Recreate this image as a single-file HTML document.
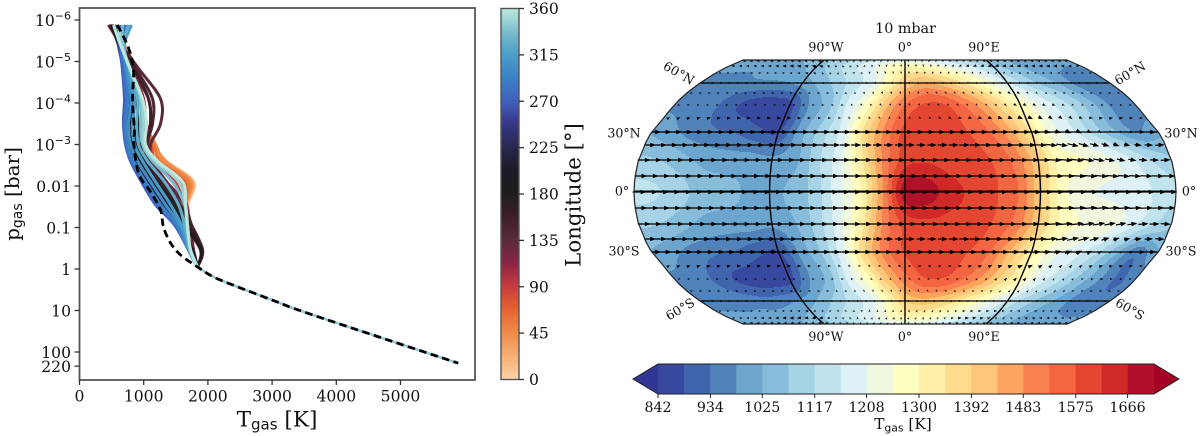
<!DOCTYPE html>
<html lang="en">
<head>
<meta charset="utf-8">
<title>Gas temperature profiles and 10 mbar map</title>
<style>
html,body{margin:0;padding:0;background:#fff;}
svg{display:block;}
text{font-family:"DejaVu Serif","Liberation Serif",serif;fill:#111;}
.sans{font-family:"DejaVu Sans","Liberation Sans",sans-serif;}
</style>
</head>
<body>
<svg id="fig" width="1200" height="436" viewBox="0 0 1200 436" xmlns="http://www.w3.org/2000/svg">
  <defs>
    <linearGradient id="lonGrad" x1="0" y1="1" x2="0" y2="0"></linearGradient>
    <clipPath id="mapClip"><path id="mapClipPath"></path></clipPath>
  </defs>
  <g id="left"></g>
  <g id="cbar"></g>
  <g id="map"></g>
  <g id="mapbar"></g>
</svg>
<script>
/* ---------- left panel data ---------- */
const xTicks = [0, 1000, 2000, 3000, 4000, 5000];
const yTickLogs = [-6, -5, -4, -3, -2, -1, 0, 1, 2, 2.342];
const yTickPlain = ["", "", "", "", "0.01", "0.1", "1", "10", "100", "220"];
const yTickExp = ["−6", "−5", "−4", "−3", "", "", "", "", "", ""];
const profileLogP = [-5.88, -5.4, -4.8, -4.1, -3.5, -3.0, -2.6, -2.1, -1.55, -1.06, -0.46, -0.05];
const profileLons = [0,11,22,33,45,56,67,78,90,100,112,125,135,146,157,169,180,191,202,214,225,236,247,258,270,281,292,303,315,326,337,349,360];
const profileTemps = [
 [608,701,857,919,997,1137,1340,1776,1683,1683,1729,1838],
 [608,701,857,935,997,1153,1356,1776,1683,1683,1729,1838],
 [608,701,872,950,1013,1153,1324,1760,1667,1683,1729,1838],
 [592,701,888,966,1013,1168,1340,1745,1652,1667,1729,1838],
 [576,686,888,982,1028,1184,1324,1729,1652,1667,1729,1838],
 [545,670,872,982,1028,1153,1262,1683,1636,1667,1729,1838],
 [530,670,857,997,1044,1122,1200,1636,1636,1667,1729,1838],
 [499,654,826,982,1044,1106,1184,1574,1652,1683,1729,1838],
 [483,639,810,966,1044,1090,1168,1511,1652,1683,1745,1838],
 [467,639,810,982,1028,1075,1168,1449,1667,1683,1760,1838],
 [452,639,810,997,1028,1059,1137,1356,1667,1683,1776,1838],
 [452,639,826,1075,1106,1059,1122,1324,1636,1729,1776,1838],
 [467,654,935,1262,1262,1106,1137,1356,1636,1745,1901,1838],
 [483,639,888,1137,1137,1044,1075,1293,1574,1745,1916,1838],
 [483,639,857,1075,1106,1028,1059,1262,1542,1729,1916,1838],
 [499,623,795,982,997,966,1013,1215,1496,1683,1901,1838],
 [499,608,763,888,904,919,982,1184,1449,1636,1885,1838],
 [514,608,748,841,841,888,950,1137,1402,1605,1760,1838],
 [530,608,732,795,810,857,935,1106,1356,1589,1729,1838],
 [545,608,701,748,763,810,904,1075,1324,1574,1714,1838],
 [576,608,686,717,732,779,872,1044,1293,1558,1714,1838],
 [592,608,686,717,717,763,841,1013,1262,1527,1729,1838],
 [608,608,686,717,701,748,826,997,1231,1527,1714,1838],
 [639,623,670,701,686,732,810,982,1200,1496,1698,1838],
 [670,639,670,701,686,717,795,966,1184,1480,1698,1838],
 [717,654,686,732,701,732,810,997,1215,1496,1698,1838],
 [763,670,717,763,717,748,841,1028,1262,1511,1698,1838],
 [795,686,732,810,763,795,904,1106,1340,1558,1698,1838],
 [810,701,763,857,826,857,982,1184,1418,1589,1714,1838],
 [763,686,779,904,888,919,1059,1324,1542,1636,1714,1838],
 [670,670,795,950,950,982,1137,1449,1636,1667,1729,1838],
 [608,654,795,966,997,997,1184,1542,1652,1683,1729,1838],
 [530,639,795,982,1044,1028,1215,1605,1652,1683,1729,1838]
];
const meanLogP = [-5.88,-5.33,-4.80,-4.07,-3.28,-3.11,-2.31,-1.86,-1.42,-1.01,-0.63,-0.34,-0.05,0.19,0.43,0.75,1.04,1.81,2.27];
const meanTemp = [592,763,841,826,857,841,919,1106,1262,1308,1417,1573,1838,2087,2461,3006,3505,5000,5900];
const lonTicks = [0, 45, 90, 135, 180, 225, 270, 315, 360];
const lonStopValues = [0,20,45,70,90,112,135,160,180,205,225,250,270,292,315,337,360];
const lonStopColors = ["#fdd3a8","#f9b27a","#f08c48","#e4602e","#c93b3f","#8e2545","#5a2a3a","#3a1f25","#1f1d1d","#1c1c2a","#28284e","#37398a","#4060c0","#3a80c5","#4a9dc8","#7abccb","#bde9dc"];

/* ---------- map data ---------- */
const tempLats = [83, 75, 60, 45, 30, 15, 0, -15, -30, -45, -60, -75, -83];
const tempField = [
 [1010,1010,1015,1020,1020,1030,1050,1080,1110,1140,1170,1200,1220,1210,1190,1160,1130,1100,1070,1040,1020,1010,1005,1005,1010],
 [990,990,990,1000,1010,1020,1050,1090,1130,1170,1210,1260,1290,1280,1260,1220,1180,1140,1090,1050,1020,1000,990,980,985],
 [970,970,965,970,970,975,1000,1040,1090,1140,1190,1290,1390,1440,1420,1370,1310,1240,1170,1110,1060,1020,970,950,960],
 [970,960,945,900,870,860,875,980,1050,1170,1270,1420,1530,1580,1580,1530,1460,1370,1290,1210,1150,1090,1020,960,950],
 [1020,990,960,940,930,900,885,1000,1090,1180,1350,1490,1590,1610,1595,1575,1530,1450,1340,1230,1170,1100,1030,980,1010],
 [1080,1070,1040,1010,1000,1000,990,1010,1100,1190,1330,1490,1600,1615,1600,1590,1570,1510,1400,1280,1260,1230,1180,1120,1080],
 [1130,1120,1090,1050,1040,1020,1010,1040,1090,1190,1290,1480,1690,1690,1640,1610,1580,1530,1400,1270,1220,1200,1190,1160,1130],
 [1080,1070,1040,1010,1000,1000,990,1020,1090,1190,1320,1490,1590,1610,1605,1600,1570,1510,1400,1290,1250,1240,1190,1130,1080],
 [1020,990,960,940,930,900,885,990,1070,1190,1370,1500,1580,1605,1595,1575,1530,1430,1320,1230,1190,1130,1040,950,1020],
 [970,960,930,890,870,860,875,975,1040,1170,1270,1410,1510,1570,1570,1530,1470,1380,1290,1190,1130,1060,990,930,950],
 [970,970,965,960,950,965,990,1035,1090,1140,1190,1290,1390,1420,1400,1350,1290,1230,1160,1100,1050,1010,960,945,960],
 [990,990,990,1000,1010,1020,1050,1090,1130,1170,1210,1260,1290,1280,1260,1220,1180,1130,1090,1050,1020,1000,990,980,985],
 [1010,1010,1015,1020,1020,1030,1050,1080,1110,1140,1170,1200,1220,1210,1190,1160,1130,1100,1070,1040,1020,1010,1005,1005,1010]
];
const levelTicks = [842, 934, 1025, 1117, 1208, 1300, 1392, 1483, 1575, 1666];
const levelColors = ["#39489f","#4065ad","#5183bb","#6ca5cd","#87bddb","#a6d3e6","#c0e3ee","#ddf1f7","#eff8df","#ffffbf","#fff0a8","#fedb8c","#fec678","#fda55f","#f98050","#f46542","#e34732","#cf2a28","#b0112a"];
const windLons = [-180,-150,-120,-90,-60,-30,0,30,60,90,120,150,180];
const windLats = [82.5,75,67.5,60,52.5,45,37.5,30,22.5,15,7.5,0,-7.5,-15,-22.5,-30,-37.5,-45,-52.5,-60,-67.5,-75,-82.5];
const windU = [
 [-3,-3,-3,-3,-1,-0.5,0.5,-1,-2,-3,-3,-3,-3],
 [-3,-3,-4,-4,-1,0,1,-1,-3,-4,-4,-4,-3],
 [-1,-1.5,-2,-3,1,0,0,-1,-2,-2,-2,-1,-1],
 [1,1,1,1,1,0.5,0,1,2,2,1,1,1],
 [1,2,1.5,1.5,1,0.5,0.5,1,1.5,3,0,1,1],
 [2,2,2,2,2,2,1,1,1.5,3,3,0.5,2],
 [3,4,4,4,3,2,2,3,4,5,3,4,3],
 [8,8,9,9,9,7,6,7,8,8,6,2,7],
 [12,12,12,12,12,10,9,10,12,13,11,6,10],
 [13,13,13,13,13,12,12,13,13,14,14,8,10],
 [13,13,13,14,14,14,14,14,14,14,14,12,13],
 [14,14,14,14,14,14,14,14,14,14,14,14,14],
 [13,13,14,14,14,14,14,14,14,14,14,13,13],
 [13,13,13,13,13,12,12,13,13,14,14,10,10],
 [12,12,12,12,12,10,9,10,12,13,12,6,10],
 [8,8,9,9,9,7,6,7,8,8,7,2,7],
 [3,4,4,4,3,2,3,3,4,5,2,4,3],
 [1,2,2,2,2,1,1,2,2,3,1,3,2],
 [1,1,1,1,1,1,1,1,1,2,1,1,1],
 [1,1,1,1,1,1,1,1,2,2,1,1,1],
 [-1,-1,-2,-3,1,0,0,1,3,3,-2,-2,-1],
 [-2,-3,-4,-4,-1,1,1,1,4,3,-3,-3,-2],
 [-3,-3,-3,-3,-1,2,0,-2,-3,-3,-3,-3,-3]
];
const windV = [
 [0,0,0,1,1,-1,-1,-1,-1,0,0,0,0],
 [0,0,0,1,2,-1.5,-2,-2,-1,-1,0,0,0],
 [0,0,0,1,2,-2,-2,-1,-1,-1,0,0,0],
 [0,0,0,0,0,-1,-1,0,0,0,0,0,0],
 [0,0,0,0,0,-1,-2,-1,-1,-2,0,0,0],
 [0,0,0,0,0,-1,-2,-1,-1,-2,-1,0,0],
 [2,1,0,0,0,-1,-1,-1,-1,-2,-3,1,0],
 [0,0,0,0,0,0,0,0,0,0,-3,-1,0],
 [0,0,0,0,0,0,0,0,0,0,-3,-2,1],
 [0,0,0,0,0,0,0,0,0,0,-2,-2,1],
 [0,0,0,0,0,0,0,0,0,0,-1,-1,0],
 [0,0,0,0,0,0,0,0,0,0,0,0,0],
 [0,0,0,0,0,0,0,0,0,0,1,1,0],
 [0,0,0,0,0,0,0,0,0,0,2,2,-1],
 [0,0,0,0,0,0,0,0,0,0,3,2,-1],
 [0,0,0,0,0,0,0,0,0,0,3,1,0],
 [2,1,0,0,0,-1,0,0,1,2,3,1,0],
 [0,0,0,0,0,0,-1,0,1,3,2,0,0],
 [0,0,0,0,0,-1,-1,-1,0,2,1,0,0],
 [0,0,0,0,0,0,0,0,0,0,0,0,0],
 [0,0,0,0,-1,1,1,1,0,0,0,0,0],
 [0,0,0,-1,1,2,2,1,0,1,1,0,0],
 [0,0,0,-1,1,2,1,1,0,1,0,0,0]
];
const latLabels = [
 ["60°N",679,73,30],["60°N",1130,73,-30],["30°N",624,133,0],["30°N",1181,133,0],
 ["0°",622,191,0],["0°",1189,191,0],["30°S",624,251,0],["30°S",1181,251,0],
 ["60°S",680,309,-30],["60°S",1130,309,30]
];
const lonLabels = ["90°W","0°","90°E"];
const lonGridValues = [-90, 0, 90];
const latGridValues = [60, 30, -30, -60];

/* ---------- helpers ---------- */
const NS = "http://www.w3.org/2000/svg";
function mk(parent, tag, attrs) {
  const el = document.createElementNS(NS, tag);
  for (const k in attrs) el.setAttribute(k, attrs[k]);
  parent.appendChild(el);
  return el;
}
function smooth(pts) {
  let d = "M" + pts[0][0].toFixed(2) + " " + pts[0][1].toFixed(2);
  for (let i = 0; i < pts.length - 1; i++) {
    const p0 = pts[Math.max(i - 1, 0)], p1 = pts[i], p2 = pts[i + 1], p3 = pts[Math.min(i + 2, pts.length - 1)];
    const c1x = p1[0] + (p2[0] - p0[0]) / 6, c1y = p1[1] + (p2[1] - p0[1]) / 6;
    const c2x = p2[0] - (p3[0] - p1[0]) / 6, c2y = p2[1] - (p3[1] - p1[1]) / 6;
    d += "C" + c1x.toFixed(2) + " " + c1y.toFixed(2) + " " + c2x.toFixed(2) + " " + c2y.toFixed(2) + " " + p2[0].toFixed(2) + " " + p2[1].toFixed(2);
  }
  return d;
}
function hexLerp(a, b, t) {
  const pa = [1,3,5].map(i => parseInt(a.substr(i,2),16));
  const pb = [1,3,5].map(i => parseInt(b.substr(i,2),16));
  return "rgb(" + pa.map((v,i) => Math.round(v + (pb[i]-v)*t)).join(",") + ")";
}
function lonColor(v) {
  for (let i = 0; i < lonStopValues.length - 1; i++) {
    if (v <= lonStopValues[i+1]) {
      return hexLerp(lonStopColors[i], lonStopColors[i+1], (v - lonStopValues[i]) / (lonStopValues[i+1] - lonStopValues[i]));
    }
  }
  return lonStopColors[lonStopColors.length - 1];
}

/* ---------- left panel ---------- */
const left = document.getElementById("left");
const AX = {l: 79.5, r: 475, t: 8, b: 380};
const xT = t => 79.5 + t * 0.0642;
const yP = lp => 20 + (lp + 6) * 41.5;

const plotBg = mk(left, "rect", {x: AX.l, y: AX.t, width: AX.r - AX.l, height: AX.b - AX.t, fill: "#fff"});



profileLons.forEach((lon, i) => {
  const pts = profileLogP.map((lp, j) => [xT(profileTemps[i][j]), yP(lp)]);
  const line = mk(left, "path", {d: smooth(pts), fill: "none", stroke: lonColor(lon), "stroke-width": 3, "stroke-linejoin": "round"});
  
  
});
const deepStart = meanLogP.indexOf(-0.05);
const deepPts = meanLogP.slice(deepStart).map((lp, j) => [xT(meanTemp[deepStart + j]), yP(lp)]);
const deep = mk(left, "path", {d: smooth(deepPts), fill: "none", stroke: lonColor(345), "stroke-width": 2.6});


const meanPts = meanLogP.map((lp, j) => [xT(meanTemp[j]), yP(lp)]);
const mean = mk(left, "path", {d: smooth(meanPts), fill: "none", stroke: "#000", "stroke-width": 2.8, "stroke-dasharray": "7.5 4.5"});



const frame = mk(left, "rect", {x: AX.l, y: AX.t, width: AX.r - AX.l, height: AX.b - AX.t, fill: "none", stroke: "#555", "stroke-width": 1.8});



xTicks.forEach(t => {
  const tick = mk(left, "line", {x1: xT(t), x2: xT(t), y1: AX.b, y2: AX.b + 5, stroke: "#333", "stroke-width": 1.3});
  
  
  const lab = mk(left, "text", {x: xT(t), y: 401.5, "text-anchor": "middle", "font-size": 15.6});
  lab.textContent = t;
  
  
});
yTickLogs.forEach((lp, i) => {
  const tick = mk(left, "line", {x1: AX.l - 5, x2: AX.l, y1: yP(lp), y2: yP(lp), stroke: "#333", "stroke-width": 1.3});
  
  
  const lab = mk(left, "text", {x: 71, y: yP(lp) + 6, "text-anchor": "end", "font-size": 15.6});
  
  
  if (yTickExp[i]) {
    const base = mk(lab, "tspan", {});
    base.textContent = "10";
    const sup = mk(lab, "tspan", {dy: -6.5, "font-size": 11, class: "sans"});
    sup.textContent = yTickExp[i];
  } else {
    lab.textContent = yTickPlain[i];
  }
});
const xTitle = mk(left, "text", {x: 277, y: 426.5, "text-anchor": "middle", "font-size": 21.6});


mk(xTitle, "tspan", {}).textContent = "T";
mk(xTitle, "tspan", {dy: 3, "font-size": 15, class: "sans"}).textContent = "gas";
mk(xTitle, "tspan", {dy: -3}).textContent = " [K]";
const yTitle = mk(left, "text", {x: 0, y: 0, "text-anchor": "middle", "font-size": 20, transform: "translate(19,194) rotate(-90)"});


mk(yTitle, "tspan", {}).textContent = "p";
mk(yTitle, "tspan", {dy: 3, "font-size": 14, class: "sans"}).textContent = "gas";
mk(yTitle, "tspan", {dy: -3}).textContent = " [bar]";

/* ---------- longitude colorbar ---------- */
const cbar = document.getElementById("cbar");
const grad = document.getElementById("lonGrad");
lonStopValues.forEach((v, i) => {
  mk(grad, "stop", {offset: v / 360, "stop-color": lonStopColors[i]});
});
const CB = {l: 501, r: 519, t: 8.5, b: 379.5};
const cbRect = mk(cbar, "rect", {x: CB.l, y: CB.t, width: CB.r - CB.l, height: CB.b - CB.t, fill: "url(#lonGrad)", stroke: "#555", "stroke-width": 1.4});


const yLon = v => CB.b - (v / 360) * (CB.b - CB.t);
lonTicks.forEach(v => {
  const tick = mk(cbar, "line", {x1: CB.r, x2: CB.r + 5, y1: yLon(v), y2: yLon(v), stroke: "#333", "stroke-width": 1.3});
  
  
  const lab = mk(cbar, "text", {x: 529, y: yLon(v) + 5.5, "font-size": 15.6});
  lab.textContent = v;
  
  
});
const cbTitle = mk(cbar, "text", {x: 0, y: 0, "text-anchor": "middle", "font-size": 21.3, transform: "translate(580.5,195) rotate(-90)"});
cbTitle.textContent = "Longitude [°]";



/* ---------- map projection ---------- */
const CX = 905, CY = 192, TOP = 132;
const latKnots = [0,7.5,15,22.5,30,37.5,45,52.5,60,67.5,75,82.5,83];
const offKnots = [0,16,32,47,60,74,87,99,109,119,126,131,132];
const wOff = [0,10,20,30,40,50,59,72,82,92,100,109,118,125,132];
const wVal = [271,270.5,269,267,263,259,254,243,235,226,217,205,191,178,162];
function lerpTable(xs, ys, x) {
  if (x <= xs[0]) return ys[0];
  for (let i = 0; i < xs.length - 1; i++) {
    if (x <= xs[i+1]) return ys[i] + (ys[i+1] - ys[i]) * (x - xs[i]) / (xs[i+1] - xs[i]);
  }
  return ys[ys.length - 1];
}
const halfW = off => lerpTable(wOff, wVal, Math.abs(off));
const latToOff = lat => Math.sign(lat) * lerpTable(latKnots, offKnots, Math.abs(lat));
const offToLat = off => Math.sign(off) * lerpTable(offKnots, latKnots, Math.abs(off));
const project = (lon, lat) => {
  const off = latToOff(lat);
  return [CX + halfW(off) * lon / 180, CY - off];
};
function cr(a, b, c, d, t) {
  return 0.5 * (2*b + (c-a)*t + (2*a-5*b+4*c-d)*t*t + (3*b-a-3*c+d)*t*t*t);
}
function tempAt(lat, lon) {
  let i = 0;
  while (i < tempLats.length - 2 && lat < tempLats[i+1]) i++;
  const u = Math.min(1, Math.max(0, (tempLats[i] - lat) / (tempLats[i] - tempLats[i+1])));
  const jf = (lon + 180) / 15;
  const j = Math.min(23, Math.max(0, Math.floor(jf)));
  const v = jf - j;
  const nc = tempField[0].length, nr = tempField.length;
  const rowVal = r => {
    const row = tempField[Math.min(nr-1, Math.max(0, r))];
    return cr(row[Math.max(0,j-1)], row[j], row[j+1], row[Math.min(nc-1,j+2)], v);
  };
  return cr(rowVal(i-1), rowVal(i), rowVal(i+1), rowVal(i+2), u);
}

/* ---------- map fill ---------- */
const mapG = document.getElementById("map");
let outlineR = [], outlineL = [];
for (let off = TOP; off >= -TOP; off -= 2) {
  outlineR.push((CX + halfW(off)).toFixed(1) + " " + (CY - off));
  outlineL.push((CX - halfW(off)).toFixed(1) + " " + (CY - off));
}
const outlineD = "M" + outlineR.join("L") + "L" + outlineL.reverse().join("L") + "Z";
document.getElementById("mapClipPath").setAttribute("d", outlineD);

const bandPaths = levelColors.map(() => "");
const LEVEL0 = 842, STEP = 45.8;
for (let y = CY - TOP; y < CY + TOP; y++) {
  const off = CY - (y + 0.5);
  const w = halfW(off), lat = offToLat(off);
  const xs = Math.floor(CX - w) - 1, xe = Math.ceil(CX + w) + 1;
  let runStart = xs, runLevel = -1;
  for (let x = xs; x <= xe; x++) {
    let lev = -2;
    if (x < xe) {
      const lon = Math.max(-180, Math.min(180, (x + 0.5 - CX) / w * 180));
      lev = Math.max(0, Math.min(levelColors.length - 1, Math.floor((tempAt(lat, lon) - LEVEL0) / STEP)));
    }
    if (lev !== runLevel) {
      if (runLevel >= 0) bandPaths[runLevel] += "M" + runStart + " " + y + "h" + (x - runStart) + "v1h" + (runStart - x) + "z";
      runStart = x;
      runLevel = lev;
    }
  }
}
const fillG = mk(mapG, "g", {"clip-path": "url(#mapClip)", "shape-rendering": "crispEdges"});


bandPaths.forEach((d, i) => {
  const band = mk(fillG, "path", {d: d, fill: levelColors[i]});
  
  
});

/* ---------- graticule ---------- */
latGridValues.forEach(lat => {
  const off = latToOff(lat), w = halfW(off);
  const gl = mk(mapG, "line", {x1: CX - w, x2: CX + w, y1: CY - off, y2: CY - off, stroke: "#000", "stroke-width": 1.3});
  
  
});
const eqLine = mk(mapG, "line", {x1: CX - 271, x2: CX + 271, y1: CY - 0.5, y2: CY - 0.5, stroke: "#000", "stroke-width": 2});


lonGridValues.forEach(lon => {
  const pts = [];
  for (let off = TOP; off >= -TOP; off -= 4) pts.push([CX + halfW(off) * lon / 180, CY - off]);
  const gl = mk(mapG, "path", {d: smooth(pts), fill: "none", stroke: "#000", "stroke-width": 1.4});
  
  
});

/* ---------- wind arrows ---------- */
function arrowPath(x, y, u, v) {
  let L = Math.hypot(u, v);
  if (L < 0.01) { u = 1; v = 0; L = 1; }
  const ux = u / L, uy = -v / L;
  const nx = -uy, ny = ux;
  const len = Math.max(L, 2);
  const s = Math.max(0.42, Math.min(1, len / 6));
  const hl = 6 * s, hh = 2.3 * s, sw = 0.6 * Math.min(1, s + 0.1);
  const tipx = x + ux * len, tipy = y + uy * len;
  const bx = tipx - ux * hl, by = tipy - uy * hl;
  const f = (a, b) => a.toFixed(1) + " " + b.toFixed(1);
  return "M" + f(x + nx*sw, y + ny*sw) + "L" + f(bx + nx*sw, by + ny*sw) + "L" + f(bx + nx*hh, by + ny*hh) +
         "L" + f(tipx, tipy) + "L" + f(bx - nx*hh, by - ny*hh) + "L" + f(bx - nx*sw, by - ny*sw) + "L" + f(x - nx*sw, y - ny*sw) + "Z";
}
const windG = mk(mapG, "g", {});


windLats.forEach((lat, r) => {
  let d = "";
  for (let k = 0; k < 48; k++) {
    const lon = -180 + 3.75 + 7.5 * k;
    const jf = (lon + 180) / 30, j = Math.floor(jf), t = jf - j;
    const u = windU[r][j] + (windU[r][j+1] - windU[r][j]) * t;
    const v = windV[r][j] + (windV[r][j+1] - windV[r][j]) * t;
    const p = project(lon, lat);
    d += arrowPath(p[0] - u / 2, p[1] + v / 2, u, v);
  }
  const row = mk(windG, "path", {d: d, fill: "#000"});
  
  
});

const outline = mk(mapG, "path", {d: outlineD, fill: "none", stroke: "#222", "stroke-width": 1.2});



/* ---------- map labels ---------- */
const title = mk(mapG, "text", {x: 905.5, y: 33, "text-anchor": "middle", "font-size": 14.3});
title.textContent = "10 mbar";


lonLabels.forEach((s, i) => {
  const lx = CX + 79 * lonGridValues[i] / 90;
  [51.5, 341].forEach(ly => {
    const t = mk(mapG, "text", {x: lx, y: ly, "text-anchor": "middle", "font-size": 12.6});
    t.textContent = s;
    
    
  });
});
latLabels.forEach(a => {
  const t = mk(mapG, "text", {x: 0, y: 0, "text-anchor": "middle", "font-size": 12.6, transform: "translate(" + a[1] + "," + a[2] + ") rotate(" + a[3] + ") translate(0,4.5)"});
  t.textContent = a[0];
  
  
});

/* ---------- map colorbar ---------- */
const mb = document.getElementById("mapbar");
const BAR = {l: 658, t: 364, b: 394, cell: 26.1};
const barR = BAR.l + BAR.cell * levelColors.length;
const under = mk(mb, "polygon", {points: BAR.l + "," + BAR.t + " 633," + (BAR.t + BAR.b) / 2 + " " + BAR.l + "," + BAR.b, fill: "#313695"});


const over = mk(mb, "polygon", {points: barR + "," + BAR.t + " " + (barR + 25) + "," + (BAR.t + BAR.b) / 2 + " " + barR + "," + BAR.b, fill: "#a50026"});


levelColors.forEach((c, i) => {
  const cell = mk(mb, "rect", {x: BAR.l + i * BAR.cell, y: BAR.t, width: BAR.cell + 0.3, height: BAR.b - BAR.t, fill: c});
  
  
});
const barOutline = mk(mb, "polygon", {points: "633," + (BAR.t + BAR.b) / 2 + " " + BAR.l + "," + BAR.t + " " + barR + "," + BAR.t + " " + (barR + 25) + "," + (BAR.t + BAR.b) / 2 + " " + barR + "," + BAR.b + " " + BAR.l + "," + BAR.b, fill: "none", stroke: "#222", "stroke-width": 1});


levelTicks.forEach((v, i) => {
  const tx = BAR.l + (v - LEVEL0) / STEP * BAR.cell;
  const tick = mk(mb, "line", {x1: tx, x2: tx, y1: BAR.b, y2: BAR.b + 4, stroke: "#222", "stroke-width": 1});
  
  
  const lab = mk(mb, "text", {x: tx, y: 412, "text-anchor": "middle", "font-size": 14.2});
  lab.textContent = v;
  
  
});
const mbTitle = mk(mb, "text", {x: 903, y: 429, "text-anchor": "middle", "font-size": 15.3});


mk(mbTitle, "tspan", {}).textContent = "T";
mk(mbTitle, "tspan", {dy: 2.5, "font-size": 10.8, class: "sans"}).textContent = "gas";
mk(mbTitle, "tspan", {dy: -2.5}).textContent = " [K]";
</script>
</body>
</html>
